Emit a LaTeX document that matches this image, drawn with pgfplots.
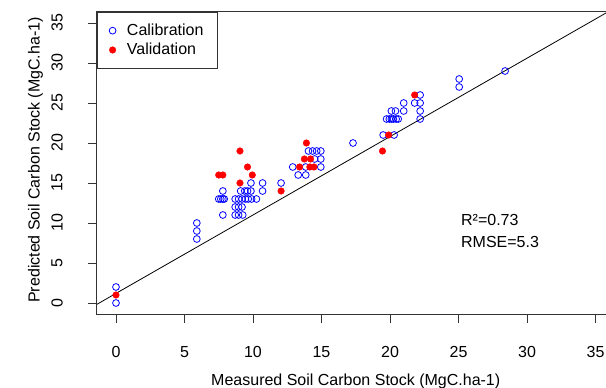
\documentclass[border=0pt]{standalone}
\usepackage{fontspec}
\setmainfont{Liberation Sans}
\usepackage{pgfplots}
\pgfplotsset{compat=1.18}
\newcommand{\fs}{\fontsize{16}{19}\selectfont}
\begin{document}
\fs
\begin{tikzpicture}
\useasboundingbox (0,0) rectangle (606pt,388pt);
\begin{axis}[
  at={(96.8pt,73.8pt)}, anchor=south west,
  scale only axis, width=517.9pt, height=302.4pt,
  xmin=-1.4, xmax=36.4, ymin=-1.4, ymax=36.4,
  xtick={0,5,...,35}, ytick={0,5,...,35},
  tick align=outside, xtick pos=bottom, ytick pos=left,
  major tick length=9pt,
  tick style={black!80, line width=0.8pt},
  axis line style={black!80, line width=0.8pt},
  /pgf/number format/assume math mode=true,
  ticklabel style={font=\fs},
  xticklabel style={anchor=center, yshift=-28.5pt},
  yticklabel style={xshift=-30.8pt, rotate=90, anchor=center},
  xlabel={Measured Soil Carbon Stock (MgC.ha-1)},
  ylabel={Predicted Soil Carbon Stock (MgC.ha-1)},
  label style={font=\fs},
  xlabel style={at={(axis description cs:0.5,-0.2226)}, anchor=center},
  ylabel style={at={(axis description cs:-0.1184,0.51)}, anchor=center},
  legend style={at={(0,1)}, anchor=north west, draw=black!80, line width=0.8pt,
    font=\fs, inner xsep=12pt, inner ysep=9.5pt, row sep=1.3pt,
    /tikz/every odd column/.append style={column sep=9pt}},
  legend cell align=left,
  legend image code/.code={\draw[#1] plot coordinates {(0pt,0pt)};},
]
\addplot[black, line width=0.8pt, forget plot] coordinates {(-1.4,-0.172) (36.4,36.872)};
\addplot[only marks, mark=o, mark size=3.4pt, draw=blue, line width=0.8pt] coordinates {
(0,2) (0,0)
(5.9,10) (5.9,9) (5.9,8)
(7.8,14) (7.5,13) (7.65,13) (7.8,13) (7.9,13) (7.8,11)
(8.7,13) (8.95,13) (9.2,13) (9.45,13) (9.65,13) (9.9,13) (10.25,13)
(9.1,14) (9.4,14) (9.6,14) (9.85,14) (10.7,14)
(9.85,15) (10.7,15) (12.05,15)
(8.7,12) (8.95,12) (9.2,12)
(8.7,11) (8.95,11) (9.25,11)
(12.9,17) (13.3,16) (13.85,16) (13.85,17) (14.95,17) (14.95,18) (14.5,18)
(14.05,19) (14.35,19) (14.65,19) (14.95,19)
(17.3,20)
(19.5,21) (20.3,21)
(19.75,23) (19.95,23) (20.1,23) (20.25,23) (20.45,23) (20.6,23)
(20.1,24) (20.4,24) (21.0,24) (21.0,25) (21.8,25) (22.2,25) (22.2,26) (22.2,24) (22.2,23)
(25.05,28) (25.05,27) (28.4,29)
};
\addlegendentry{Calibration}
\addplot[only marks, mark=*, mark size=3.3pt, draw=red, fill=red, line width=0.4pt] coordinates {
(0,1) (7.5,16) (7.8,16) (9.05,19) (9.6,17) (9.95,16) (9.05,15) (12.05,14)
(13.4,17) (14.15,17) (14.45,17) (13.75,18) (14.2,18) (13.9,20) (19.45,19) (19.9,21) (21.8,26)
};
\addlegendentry{Validation}
\node[anchor=west, inner sep=0pt, font=\fs] at (axis cs:25.18,10.4) {R²=0.73};
\node[anchor=west, inner sep=0pt, font=\fs] at (axis cs:25.18,7.66) {RMSE=5.3};
\end{axis}
\end{tikzpicture}
\end{document}
